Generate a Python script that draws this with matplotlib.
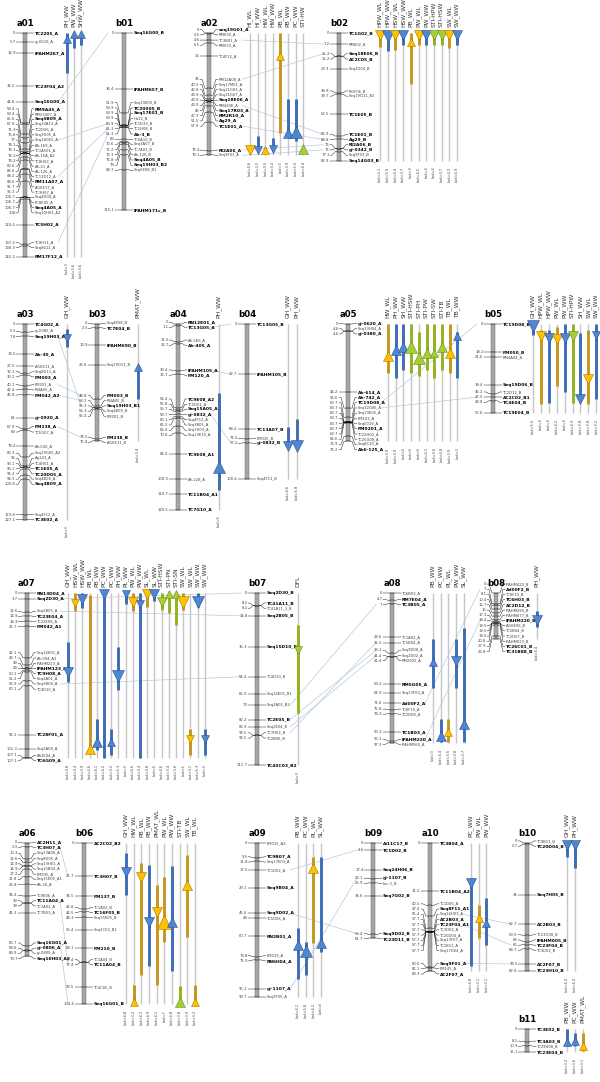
import matplotlib
matplotlib.use('Agg')
import matplotlib.pyplot as plt
from matplotlib.patches import Rectangle

W, H = 600, 1082
PX_PER_CM = 1.54           # vertical map scale
GAP = 5.2 / PX_PER_CM      # minimum distance between two marker labels (cM)

# ---------------- marker data: (cM, name, bold) ----------------
a01 = [(0, 'TC2205_A', 1), (5.7, 'gi-0616_A', 0), (12.9, 'IPAHM267_A', 1), (34.5, 'TC23F04_A2', 1),
       (44.8, 'Seq16G00_A', 1), (58.4, 'RM9A45_A', 1), (59.4, 'RM23407_A', 0), (65.6, 'Seq5B09_A', 1),
       (67.9, 'Seq10A13_A', 0), (71.3, 'TC2D06_A', 0), (75.6, 'Seq3D05_A', 0), (77, 'Seq18G55_A', 0),
       (78.1, 'Ah-169_A', 0), (78.1, 'TC1A501_A', 0), (78.1, 'Ah-15A_A2', 0), (78.2, 'TC8H02_A', 0),
       (80.6, 'Ah-21_A', 0), (82.6, 'Ah-126_A', 0), (88.2, 'TC11D12_A', 0), (88.6, 'RM11A07_A', 1),
       (91.7, 'Ai16E17_A', 0), (96.3, 'TC3H07_A', 0), (106.7, 'Seq4D04_A', 0), (106.7, 'PC8E05_A', 0),
       (106.7, 'Seq4A05_A', 1), (108, 'Seq10H03_A2', 0), (124.4, 'TC5H02_A', 1), (137.2, 'TC9H11_A', 0),
       (138.3, 'Seq8612_A', 0), (145.2, 'RM17F12_A', 1)]
b01 = [(0, 'Seq16G00_B', 1), (36.4, 'IPAHM657_B', 1), (51.9, 'Seq19600_B', 0), (59.9, 'TC20005_B', 1),
       (59.9, 'Seq17E01_B', 1), (59.9, 'Ha12_B', 0), (60.9, 'TC1D33_B', 0), (61.3, 'TC1H08_B', 0),
       (61.3, 'Ah-3_B', 1), (69, 'TC6A10_B', 0), (70.6, 'Seq3A07_B', 0), (71.2, 'TC7A02_B', 0),
       (72.3, 'Ah-126_B', 0), (75.8, 'Seq4A05_B', 1), (79, 'Seq19H03_B2', 1), (88.7, 'Seq5E08_B1', 0),
       (115.1, 'IPAHM171c_B', 1)]
a02 = [(0, 'seq19G01_A', 1), (0.5, 'RM030_A', 0), (4.6, 'TC3B01_A', 0), (6.5, 'RM033_A', 0),
       (15, 'TC4F12_A', 0), (36, 'RM12A08_A', 0), (40.5, 'Seq17M01_A', 0), (42.8, 'Seq11G03_A', 0),
       (43.9, 'Seq11G07_A', 0), (43.9, 'Seq18E06_A', 1), (43.9, 'RM440E_A', 0), (45, 'Seq17R03_A', 1),
       (47.3, 'RM2R10_A', 1), (51.5, 'Ag29_A', 1), (57.9, 'TC1E01_A', 1), (76.4, 'RI2A06_A', 1),
       (79.1, 'Seq9F03_A', 0)]
b02 = [(0, 'TC1G02_B', 1), (7.2, 'RM002_B', 0), (15.2, 'Seq18E06_B', 1), (15.2, 'AC2C05_B', 1),
       (23.3, 'Seq2G04_B', 0), (38.9, 'Ri1F06_B', 0), (39.7, 'Seq19O11_B2', 0), (52.5, 'TC1E05_B', 1),
       (66.9, 'TC1E01_B', 1), (68.8, 'Ag29_B', 1), (75, 'RI2A06_B', 1), (75, 'gi-0342_B', 1),
       (77.1, 'Seq9F03_B', 0), (82.9, 'Seq14G03_B', 1)]
a03 = [(0, 'TC4G02_A', 1), (5.3, 'gi-0385_A', 0), (7.8, 'Seq19H03_A1', 1), (19.5, 'Ah-30_A', 1),
       (27.5, 'Ai16E11_A', 0), (32.1, 'Seq8D11_A', 0), (33.2, 'PM003_A', 1), (40.1, 'PM201_A', 0),
       (42.4, 'RI4A05_A', 0), (45.8, 'PM042_A2', 1), (61, 'gi-0920_A', 1), (67.9, 'PM238_A', 1),
       (69, 'TC5G07_A', 0), (79.4, 'Ah-630_A', 0), (86.3, 'Seq19G05_A2', 0), (92, 'Ag143_A', 0),
       (93.1, 'TC4H01_A', 0), (93.1, 'TC1E05_A', 1), (94.2, 'TC20D05_A', 1), (98.3, 'Seq4B08_A', 0),
       (100.8, 'Seq3B09_A', 1), (123.8, 'Seq4F12_A', 0), (127.1, 'TC3E02_A', 1)]
b03 = [(0, 'Seq4E08_B', 0), (2.3, 'TC7E04_B', 1), (13.9, 'IPAHM690_B', 1), (26.8, 'Seq19O11_B', 0),
       (48.8, 'PM003_B', 1), (53.2, 'RI4A05_B', 0), (54.3, 'Seq19H03_B1', 1), (54.3, 'Seq4B09_B', 0),
       (55.4, 'PM201_B', 0), (74.5, 'PM238_B', 1), (75.8, 'Ai16E11_B', 0)]
a04 = [(0, 'RN12E01_A', 1), (1.1, 'TC13G05_A', 1), (11.5, 'Ah-560_A', 0), (12.7, 'Ah-405_A', 1),
       (30.4, 'IPAHM105_A', 1), (32.7, 'PM120_A', 1), (54.4, 'TC9E08_A2', 1), (55.8, 'TC5D01_A', 0),
       (56.7, 'Seq15A05_A2', 1), (58.7, 'gi-0832_A', 1), (60.1, 'Seq4F12_A', 0), (61.2, 'Seq3B05_A', 0),
       (66.4, 'Seq7H03_A', 0), (70.8, 'Seq13E10_A', 0), (84.4, 'TC9E08_A1', 1), (100.9, 'Ah-228_A', 0),
       (110.7, 'TC11B04_A1', 1), (120.5, 'TC7G10_A', 1)]
b04 = [(0, 'TC13G05_B', 1), (32.7, 'IPAHM105_B', 1), (68.4, 'TC13A07_B', 1), (74.5, 'PM035_B', 0),
       (77.2, 'gi-0832_B', 1), (100.4, 'Seq4F11_B', 0)]
a05 = [(0, 'gi-0620_A', 1), (4.6, 'Seq13H04_A', 0), (4.6, 'gi-0380_A', 1), (44.2, 'Ah-614_A', 1),
       (54.6, 'Ah-742_A', 1), (60.7, 'TC19D08_A', 1), (63.7, 'Seq12G06_A', 0), (63.7, 'Seq19E06_A', 0),
       (63.7, 'PM103_A', 0), (63.7, 'Seq0019_A', 0), (63.7, 'PM0201_A', 1), (63.7, 'TC22H02_A', 0),
       (64.6, 'TC20G08_A', 0), (72.9, 'Seq8C10_A', 0), (76.2, 'Ah6-125_A', 1)]
b05 = [(0, 'TC19D08_B', 1), (18.1, 'PM050_B', 1), (21.6, 'RM4A04_B', 0), (39.4, 'Seq19D06_B', 1),
       (45.2, 'TC2D12_B', 0), (47.5, 'AC2C02_B1', 1), (49.8, 'TC4E04_B', 1), (57.6, 'TC19E04_B', 1)]
a07 = [(0, 'RN13D04_A', 1), (3.7, 'Seq2D30_A', 1), (12.6, 'Seq2B05_A', 0), (14.9, 'TC23E04_A', 1),
       (18.3, 'TC22E08_A', 0), (21.7, 'PM042_A1', 1), (42.1, 'Seq14E01_A', 0), (46.7, 'Ah-004_A2', 0),
       (49, 'IPAHM223_A', 0), (49, 'IPAHM123_A', 1), (50.1, 'TC9H08_A', 1), (51.2, 'Seq2A01_A', 0),
       (56.9, 'Seq3B08_A', 0), (60.1, 'TC4D10_A', 0), (92.1, 'TC28F01_A', 1), (101.3, 'Seq2A08_A', 0),
       (107.1, 'Ah2E04_A', 0), (107.1, 'TC6G09_A', 1)]
b07 = [(0, 'Seq2D30_B', 1), (8.2, 'TC41A11_B', 1), (8.2, 'TC41A11_1_B', 0), (14.8, 'Seq2B05_B', 1),
       (35.3, 'Seq15D10_B', 1), (54.4, 'TC4D10_B', 0), (65.9, 'Seq14E01_B1', 0), (73, 'Seq2A01_B2', 0),
       (82.2, 'TC2E05_B', 1), (86.9, 'Seq2E04_B', 0), (92.5, 'TC7H02_B', 0), (92.5, 'TC2B06_B', 0),
       (111.7, 'TC40C03_B2', 1)]
a08 = [(0, 'TC6B03_A', 0), (4.7, 'RM7E04_A', 1), (7, 'TC3B05_A', 1), (28.6, 'TC1A02_A', 0),
       (32.2, 'TC5B04_A', 0), (39.1, 'Seq9D08_A', 0), (41.4, 'Seq2D02_A', 0), (41.4, 'RM2002_A', 0),
       (59.2, 'RM5G05_A', 1), (64.9, 'Seq13F03_A', 0), (71.6, 'Ad00F2_A', 1), (75.8, 'TC8F10_A', 0),
       (78.3, 'TC2D08_A', 0), (90.3, 'TC1B03_A', 1), (96.1, 'IPAHM220_A', 1), (97.3, 'IPAHM560_A', 0)]
b08 = [(0, 'IPAHM420_B', 0), (7, 'Ad00F2_B', 1), (8.1, 'TC8F10_B', 0), (10.4, 'TC6H03_B', 1),
       (12.7, 'AC2D12_B', 1), (15, 'IPAHM290_B', 0), (17.3, 'IPAHM877_B', 0), (18.4, 'IPAHM220_B', 1),
       (19.5, 'Ai16E06_B', 0), (19.5, 'TC5B04_B', 0), (19.5, 'TC2D07_B', 0), (20.8, 'IPAHM023_B', 0),
       (27.9, 'TC26C01_B', 1), (29.8, 'TC31B88_B', 1)]
a06 = [(0, 'AC2H11_A', 1), (2.3, 'TC3H07_A', 1), (10.3, 'Seq13A06_A', 0), (12.6, 'Seq8D05_A', 0),
       (14.9, 'Seq13H01_A', 0), (14.9, 'Seq15B04_A', 0), (17.2, 'PM035_A', 0), (21.8, 'Seq15E05_A1', 0),
       (26.8, 'Ah-26_A', 0), (34.4, 'TC9E06_A', 0), (39, 'TC11A04_A', 1), (39, 'TC1A02_A', 0),
       (45.3, 'TC7B03_A', 0), (66.7, 'Seq16G01_A', 1), (69.6, 'gi-0806_A', 1), (69.9, 'gi-0805_A', 0),
       (73.7, 'Seq16H03_A2', 1)]
b06 = [(0, 'AC2C02_B2', 1), (21.7, 'TC3H07_B', 1), (34.5, 'PM137_B', 1), (42.8, 'TC1A02_B', 0),
       (44.5, 'TC16F05_B', 1), (48.3, 'Seq15E05_B', 0), (56.4, 'Seq2C02_B1', 0), (68.1, 'PM210_B', 1),
       (77.4, 'TC1A04_B', 0), (77.4, 'TC11A04_B', 1), (93.5, 'TC4C05_B', 0), (104.4, 'Seq16G01_B', 1)]
a09 = [(0, 'PM015_A2', 0), (9.5, 'TC9B07_A', 1), (11.8, 'Seq17E03_A', 0), (17.5, 'TC1D02_A', 0),
       (29.1, 'Seq9B04_A', 1), (45.6, 'Seq9D02_A', 1), (49, 'TC5D06_A', 0), (60.7, 'RN2B01_A', 1),
       (73.8, 'PM019_A', 0), (75.9, 'RN6H04_A', 1), (95.1, 'gi-1107_A', 1), (99.7, 'Seq9F05_A', 0)]
b09 = [(0, 'Ai11C17_B', 1), (4.6, 'TC1D02_B', 1), (17.4, 'Seq24H06_B', 1), (23.1, 'gi-1107_B', 1),
       (25.9, 'Lec-1_B', 0), (34.6, 'Seq7G02_B', 1), (59.4, 'Seq9D02_B', 1), (61.7, 'TC23D11_B', 1)]
a10 = [(0, 'TC3B04_A', 1), (31.2, 'TC11B04_A2', 1), (40.5, 'TC1D06_A', 0), (47.4, 'Seq8F11_A1', 1),
       (55.4, 'Seq14H03_A', 0), (57.7, 'AC2B03_A', 1), (57.7, 'TC23F04_A1', 1), (57.7, 'TC3D02_A', 0),
       (57.7, 'TC20D04_A', 0), (57.7, 'Seq13F07_A', 0), (57.7, 'TC1B11_A', 0), (57.7, 'Seq17D04_A', 0),
       (80.6, 'Seq9F01_A', 1), (81.1, 'PM145_A', 0), (83.3, 'AC2F07_A', 1)]
b10 = [(0, 'TC9B11_B', 0), (0.7, 'TC20D04_B', 1), (34, 'Seq7H05_B', 1), (52.7, 'AC2B03_B', 1),
       (59.9, 'TC23O08_B', 0), (64, 'IPAHM005_B', 1), (66, 'TC23F04_B', 1), (68.7, 'TC3D02_B', 0),
       (78.5, 'AC2F07_B', 1), (82.9, 'TC23H10_B', 1)]
b11 = [(0, 'TC3E02_B', 1), (8.2, 'TC3A03_B', 1), (10.9, 'TC29H08_B', 0), (15.1, 'TC23E04_B', 1)]

# ---------------- QTL data: (trait, LOD, start, peak, end, direction, colour class) ----------------
a01_qtl = [('PH_WW', 3.0, 0, 4, 26, 'u', 'b'), ('PW_WW', 3.6, 0, 0.5, 10, 'u', 'b'),
           ('SHW_WW', 3.6, 0, 0.5, 8, 'u', 'b')]
a02_qtl = [('HI_WL', 4.6, 76, 76, 76, 'd', 'o'), ('HI_WW', 3.2, 67, 76, 76, 'd', 'b'),
           ('HW_WL', 3.5, 74, 76, 76, 'u', 'o'), ('HW_WW', 3.2, 68, 75, 75, 'd', 'b'),
           ('PB_WL', 3.0, 0, 15, 65, 'u', 'o'), ('PB_WW', 3.9, 43, 65, 68, 'u', 'b'),
           ('PC_WW', 5.5, 43, 64, 70, 'u', 'b'), ('STI-HW', 4.4, 75, 75, 75, 'u', 'g')]
b02_qtl = [('HPW_WL', 4.1, 0, 1.5, 9, 'd', 'o'), ('HPW_WW', 5.5, 0, 2, 12, 'd', 'b'),
           ('HSW_WL', 4.4, 0, 1.5, 11, 'd', 'o'), ('HSW_WW', 3.7, 0, 1.5, 8, 'd', 'b'),
           ('PB_WL', 3.0, 0, 6, 33, 'u', 'o'), ('PW_WL', 4.5, 0, 1.5, 8, 'd', 'o'),
           ('PW_WW', 4.0, 0, 1.5, 8, 'd', 'b'), ('STI-HPW', 4.0, 0, 1.5, 8, 'd', 'g'),
           ('STI-HSW', 3.7, 0, 1.5, 8, 'd', 'g'), ('SW_WL', 4.2, 0, 1.5, 10, 'd', 'o'),
           ('SW_WW', 4.9, 0, 1.5, 8, 'd', 'b')]
a03_qtl = [('GH_WW', 3.0, 3, 9, 15, 'd', 'b')]
b03_qtl = [('PMAT_WW', 3.4, 27, 28, 49, 'u', 'b')]
a04_qtl = [('PH_WW', 5.0, 45, 93, 108, 'u', 'b')]
b04_qtl = [('GH_WW', 4.6, 67, 79, 79, 'd', 'b'), ('PH_WW', 5.8, 62, 79, 79, 'd', 'b')]
a05_qtl = [('HW_WL', 3.9, 0, 21, 32, 'u', 'o'), ('PH_WW', 3.9, 0, 17, 35, 'u', 'b'),
           ('SH_WW', 4.0, 0, 15, 30, 'u', 'b'), ('STI-HSW', 5.0, 0, 15, 32, 'u', 'g'),
           ('STI-PH', 5.0, 5, 22, 34, 'u', 'g'), ('STI-PW', 4.1, 0, 19, 30, 'u', 'g'),
           ('STI-SW', 3.6, 0, 19, 35, 'u', 'g'), ('STI-TB', 4.8, 0, 15, 30, 'u', 'g'),
           ('TB_WL', 3.9, 0, 19, 32, 'u', 'o'), ('TB_WW', 3.0, 5, 8, 35, 'u', 'b')]
b05_qtl = [('GH_WW', 5.5, 0, 1.5, 7, 'd', 'b'), ('HPW_WL', 4.0, 4, 8, 52, 'd', 'o'),
           ('HPW_WW', 4.0, 4, 9, 51, 'd', 'b'), ('PW_WL', 4.2, 2, 10, 40, 'd', 'o'),
           ('PW_WW', 4.0, 0, 9, 44, 'd', 'b'), ('STI-HPW', 4.3, 0, 8, 51, 'd', 'g'),
           ('SH_WW', 3.8, 6, 49, 49, 'd', 'b'), ('SW_WL', 3.8, 4, 36, 52, 'd', 'o'),
           ('SW_WW', 3.2, 0, 7, 49, 'd', 'b')]
a07_qtl = [('GH_WW', 3.8, 32, 51, 58, 'd', 'b'), ('HSW_WL', 3.4, 0, 6.5, 12, 'd', 'o'),
           ('HSW_WW', 3.9, 0, 4, 10, 'd', 'b'), ('PB_WL', 4.6, 1, 101, 101, 'u', 'o'),
           ('PB_WW', 4.1, 82, 97, 102, 'u', 'b'), ('PC_WW', 4.2, 0, 0.5, 107, 'd', 'b'),
           ('PC_WW', 3.2, 88, 97, 105, 'u', 'b'), ('PH_WW', 5.3, 35, 54, 63, 'd', 'b'),
           ('PL_WW', 3.0, 0, 0.5, 7, 'd', 'b'), ('PW_WL', 4.6, 0, 6, 12, 'd', 'o'),
           ('PW_WW', 3.4, 0, 7, 107, 'd', 'b'), ('SL_WL', 3.8, 0, 0.5, 9, 'd', 'o'),
           ('SL_WW', 4.0, 0, 0.5, 5, 'd', 'b'), ('STI-HSW', 4.6, 0, 6, 11, 'd', 'g'),
           ('STI-PN', 3.4, 0, 0.5, 13, 'u', 'g'), ('STI-SN', 3.6, 0, 0.5, 21, 'u', 'g'),
           ('SW_WL', 5.0, 0, 6, 11, 'd', 'o'), ('SW_WL', 3.1, 88, 95, 105, 'd', 'o'),
           ('SW_WW', 5.3, 0, 6, 9, 'd', 'b'), ('SW_WW', 3.0, 88, 95, 105, 'd', 'b')]
b07_qtl = [('DFL', 3.0, 21, 37, 78, 'd', 'g')]
a08_qtl = [('PB_WW', 3.0, 30, 45, 62, 'u', 'b'), ('PC_WW', 4.4, 82, 93, 97, 'u', 'b'),
           ('PL_WL', 3.5, 82, 90, 97, 'u', 'o'), ('PW_WW', 3.8, 30, 44, 62, 'd', 'b'),
           ('SL_WW', 3.7, 23, 85, 97, 'u', 'b')]
b08_qtl = [('PH_WW', 4.4, 12, 17.5, 22, 'd', 'b')]
b06_qtl = [('GH_WW', 4.8, 6.5, 19, 34, 'd', 'b'), ('HW_WL', 3.2, 92, 103, 103, 'u', 'o'),
           ('PB_WL', 4.3, 13, 22, 86, 'd', 'o'), ('PB_WW', 4.9, 14, 51, 80, 'd', 'b'),
           ('PMAT_WL', 4.1, 27, 45, 92, 'd', 'o'), ('PW_WL', 7.0, 22, 51, 64, 'u', 'o'),
           ('PW_WW', 4.8, 15, 51, 83, 'u', 'b'), ('STI-TB', 3.8, 93, 103, 103, 'u', 'g'),
           ('SW_WL', 3.9, 8, 27, 61, 'u', 'o'), ('TB_WL', 3.2, 92, 103, 103, 'u', 'o')]
a09_qtl = [('PB_WW', 4.1, 55, 66, 88, 'u', 'b'), ('PC_WW', 5.6, 64, 70, 86, 'u', 'b'),
           ('PL_WL', 4.2, 9, 16, 65, 'u', 'o'), ('SL_WW', 4.0, 9, 65, 71, 'u', 'b')]
a10_qtl = [('PC_WW', 4.8, 23, 26, 80, 'd', 'b'), ('PW_WL', 3.1, 40, 49, 62, 'u', 'o'),
           ('PW_WW', 3.1, 36, 52, 66, 'u', 'b')]
b10_qtl = [('GH_WW', 4.2, 0, 1.5, 9, 'd', 'b'), ('PH_WW', 4.2, 0, 1.5, 16, 'd', 'b')]
b11_qtl = [('PB_WW', 3.2, 0, 8.5, 11, 'u', 'b'), ('PC_WW', 3.6, 2.5, 8, 11, 'u', 'b'),
           ('PMAT_WL', 3.1, 2.5, 11, 14, 'u', 'o')]

# homologous markers between the A and B genome maps
links = [('a01', 'Seq16G00_A', 'b01', 'Seq16G00_B'), ('a01', 'Seq18G55_A', 'b01', 'TC1D33_B'),
         ('a01', 'TC11D12_A', 'b01', 'TC1H08_B'), ('a01', 'TC9H11_A', 'b01', 'Ah-3_B'),
         ('a02', 'TC3B01_A', 'b02', 'RM002_B'), ('a02', 'RM12A08_A', 'b02', 'Seq18E06_B'),
         ('a02', 'RM440E_A', 'b02', 'TC1E01_B'), ('a02', 'TC1E01_A', 'b02', 'Ag29_B'),
         ('a02', 'RI2A06_A', 'b02', 'RI2A06_B'), ('a02', 'Seq9F03_A', 'b02', 'gi-0342_B'),
         ('a03', 'Seq19H03_A1', 'b03', 'Seq19H03_B1'), ('a03', 'PM201_A', 'b03', 'PM003_B'),
         ('a03', 'PM042_A2', 'b03', 'RI4A05_B'), ('a03', 'PM238_A', 'b03', 'PM238_B'),
         ('a04', 'TC13G05_A', 'b04', 'TC13G05_B'), ('a04', 'IPAHM105_A', 'b04', 'IPAHM105_B'),
         ('a04', 'gi-0832_A', 'b04', 'gi-0832_B'),
         ('a05', 'TC19D08_A', 'b05', 'TC19D08_B'), ('a05', 'Seq12G06_A', 'b05', 'AC2C02_B1'),
         ('a07', 'Seq2D30_A', 'b07', 'Seq2D30_B'), ('a07', 'Seq2B05_A', 'b07', 'Seq2B05_B'),
         ('a07', 'Seq3B08_A', 'b07', 'TC4D10_B'),
         ('b07', 'Seq2A01_B2', 'a08', 'TC3B05_A'), ('b07', 'TC2E05_B', 'a08', 'Seq9D08_A'),
         ('b07', 'Seq2E04_B', 'a08', 'Seq2D02_A'), ('b07', 'TC7H02_B', 'a08', 'TC5B04_A'),
         ('a08', 'Ad00F2_A', 'b08', 'Ad00F2_B'), ('a08', 'IPAHM220_A', 'b08', 'IPAHM220_B'),
         ('a06', 'TC3H07_A', 'b06', 'TC3H07_B'), ('a06', 'TC11A04_A', 'b06', 'TC11A04_B'),
         ('a06', 'Seq16G01_A', 'b06', 'Seq16G01_B'),
         ('a09', 'TC1D02_A', 'b09', 'TC1D02_B'), ('a09', 'Seq9D02_A', 'b09', 'Seq9D02_B'),
         ('a09', 'gi-1107_A', 'b09', 'gi-1107_B'),
         ('a10', 'Seq14H03_A', 'b10', 'AC2B03_B'), ('a10', 'TC23F04_A1', 'b10', 'TC23F04_B'),
         ('a10', 'Seq9F01_A', 'b10', 'AC2F07_B')]

MARKERS = {'a01': a01, 'b01': b01, 'a02': a02, 'b02': b02, 'a03': a03, 'b03': b03, 'a04': a04,
           'b04': b04, 'a05': a05, 'b05': b05, 'a07': a07, 'b07': b07, 'a08': a08, 'b08': b08,
           'a06': a06, 'b06': b06, 'a09': a09, 'b09': b09, 'a10': a10, 'b10': b10, 'b11': b11}
QTLS = {'a01': a01_qtl, 'a02': a02_qtl, 'b02': b02_qtl, 'a03': a03_qtl, 'b03': b03_qtl,
        'a04': a04_qtl, 'b04': b04_qtl, 'a05': a05_qtl, 'b05': b05_qtl, 'a07': a07_qtl,
        'b07': b07_qtl, 'a08': a08_qtl, 'b08': b08_qtl, 'b06': b06_qtl, 'a09': a09_qtl,
        'a10': a10_qtl, 'b10': b10_qtl, 'b11': b11_qtl}

# ---------------- layout (pixels): bar x, y of 0 cM ----------------
CHROM_POS = {'a01': (25, 33), 'b01': (124, 33), 'a02': (209, 33), 'b02': (339, 33),
             'a03': (25, 324), 'b03': (97, 324), 'a04': (178, 324), 'b04': (247, 324),
             'a05': (348, 324), 'b05': (493, 324),
             'a07': (27, 593), 'b07': (257, 593), 'a08': (392, 593), 'b08': (496, 593),
             'a06': (27, 843), 'b06': (84, 843), 'a09': (257, 843), 'b09': (373, 843),
             'a10': (430, 843), 'b10': (527, 843), 'b11': (527, 1029)}
# first QTL column x and column spacing
QTL_POS = {'a01': (67, 7), 'a02': (250, 7.6), 'b02': (380, 7.7), 'a03': (67, 7), 'b03': (138, 7),
           'a04': (219, 7), 'b04': (288, 8.5), 'a05': (388, 7.7), 'b05': (533, 7.9),
           'a07': (68, 7.2), 'b07': (298, 7), 'a08': (433, 7.7), 'b08': (537, 7),
           'b06': (126, 7.67), 'a09': (298, 7.7), 'a10': (471, 7.6), 'b10': (567, 8),
           'b11': (567, 8)}

COLORS = {  # triangle face, triangle edge, interval bar
    'b': ('#4f86d0', '#2f5597', '#3e6db5'),
    'o': ('#ffc000', '#a67c00', '#c8961e'),
    'g': ('#a6ce39', '#6b8e23', '#93b41e'),
}


def spread(pos, gap):
    """ push labels apart (>= gap) keeping every cluster centred on its markers """
    groups = []
    for p in pos:
        groups.append([1, p])
        while len(groups) > 1 and groups[-2][1] + groups[-2][0] * gap > groups[-1][1]:
            n1, t1 = groups[-2]
            n2, t2 = groups[-1]
            groups[-2] = [n1 + n2, (n1 * t1 + n2 * (t2 - n1 * gap)) / (n1 + n2)]
            groups.pop()
    out = []
    for n, top in groups:
        out += [top + k * gap for k in range(n)]
    return out


fig = plt.figure(figsize=(W / 100, H / 100), dpi=100)
axes = {}


def row_axes(top):
    if top not in axes:
        ax = fig.add_axes([0, 0, 1, 1])
        ax.set_xlim(0, W)
        ax.set_ylim((H - top) / PX_PER_CM, -top / PX_PER_CM)
        ax.axis('off')
        ax.patch.set_alpha(0)
        axes[top] = ax
    return axes[top]


px = 1 / PX_PER_CM
label_y = {c: spread([m[0] for m in mk], GAP) for c, mk in MARKERS.items()}

# homology links (drawn first, behind everything)
for ca, na, cb, nb in links:
    xa, top = CHROM_POS[ca]
    xb, _ = CHROM_POS[cb]
    ia = [m[1] for m in MARKERS[ca]].index(na)
    ib = [m[1] for m in MARKERS[cb]].index(nb)
    row_axes(top).plot([xa + 33, xb - 16], [label_y[ca][ia], label_y[cb][ib]],
                       color='#aec4e2', lw=0.45, zorder=1)

# chromosomes with marker labels
for c, mk in MARKERS.items():
    x, top = CHROM_POS[c]
    ax = row_axes(top)
    length = max(m[0] for m in mk)
    ax.add_patch(Rectangle((x - 2, 0), 4, length, fc='#a6a6a6', ec='#6f6f6f', lw=0.35, zorder=3))
    ax.text(x, -5 * px, c, ha='center', va='bottom', fontsize=6.2, fontweight='bold')
    for (p, name, bold), y in zip(mk, label_y[c]):
        ax.plot([x - 2, x + 2], [p, p], color='k', lw=0.35, zorder=4)
        ax.plot([x + 2, x + 4, x + 7, x + 9], [p, p, y, y], color='k', lw=0.3, zorder=4)
        ax.plot([x - 2, x - 4, x - 7, x - 9], [p, p, y, y], color='k', lw=0.3, zorder=4)
        ax.text(x + 9.5, y, name, ha='left', va='center',
                fontsize=3.2 if bold else 2.7, fontweight='bold' if bold else 'normal',
                color='#000000' if bold else '#444444')
        ax.text(x - 9.5, y, f'{p:g}', ha='right', va='center', fontsize=2.7, color='#444444')

# QTL columns
for c, qtls in QTLS.items():
    _, top = CHROM_POS[c]
    ax = row_axes(top)
    length = max(m[0] for m in MARKERS[c])
    x0, step = QTL_POS[c]
    for j, (trait, lod, lo, peak, hi, d, col) in enumerate(qtls):
        qx = x0 + j * step
        face, edge, bar = COLORS[col]
        ax.plot([qx, qx], [0, length], color='#c6c6c6', lw=1.0, solid_capstyle='butt', zorder=2)
        if hi > lo:
            ax.plot([qx, qx], [lo, hi], color=bar, lw=2.1, solid_capstyle='butt', zorder=5)
        ax.plot(qx, peak, marker='^' if d == 'u' else 'v', ms=2.5 + 1.1 * lod,
                mfc=face, mec=edge, mew=0.4, zorder=6)
        ax.text(qx, -6 * px, trait, rotation=90, ha='center', va='bottom', fontsize=4.3,
                color='#333333')
        ax.text(qx, length + 6 * px, f'Lod={lod:g}', rotation=90, ha='center', va='top',
                fontsize=2.6, color='#444444')

fig.savefig('out.png', dpi=100, facecolor='white')
